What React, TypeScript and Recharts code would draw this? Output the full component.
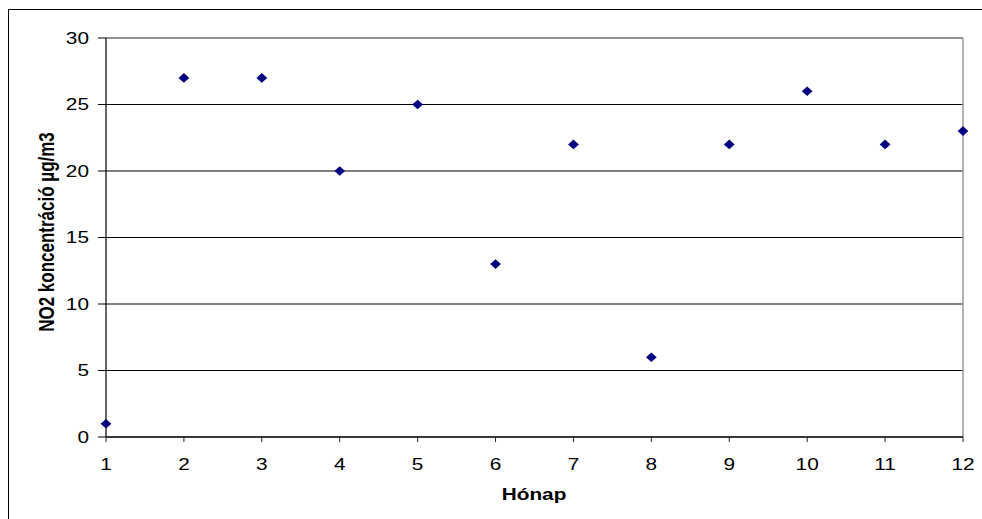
import React from 'react';
import { ScatterChart, Scatter, XAxis, YAxis, CartesianGrid, ReferenceLine } from 'recharts';

const months = [1, 2, 3, 4, 5, 6, 7, 8, 9, 10, 11, 12];
const no2Values = [1, 27, 27, 20, 25, 13, 22, 6, 22, 26, 22, 23];
const yTicks = [0, 5, 10, 15, 20, 25, 30];
const xTicks = [1, 2, 3, 4, 5, 6, 7, 8, 9, 10, 11, 12];
const xTitle = 'Hónap';
const yTitle = 'NO2 koncentráció µg/m3';

const data = months.map((m, i) => ({ x: m, y: no2Values[i] }));

const SX = 1.3;
const FONT = "'Liberation Sans', Arial, sans-serif";

const Diamond = (props: any) => {
  const { cx, cy } = props;
  if (cx == null || cy == null) return null;
  const w = 5.4;
  const h = 4.8;
  return (
    <polygon
      points={`${cx},${cy - h} ${cx + w},${cy} ${cx},${cy + h} ${cx - w},${cy}`}
      fill="#000080"
      stroke="none"
    />
  );
};

const YTick = (props: any) => {
  const { x, y, payload } = props;
  return (
    <g transform={`translate(${x},${y})`}>
      <text transform={`scale(${SX},1)`} textAnchor="end" dy="0.36em" fontSize={16} fontFamily={FONT} fill="#000">
        {payload.value}
      </text>
    </g>
  );
};

const XTick = (props: any) => {
  const { x, y, payload } = props;
  return (
    <g transform={`translate(${x},${y})`}>
      <text transform={`scale(${SX},1)`} textAnchor="middle" dy="0.72em" fontSize={16} fontFamily={FONT} fill="#000">
        {payload.value}
      </text>
    </g>
  );
};

export default function App() {
  return (
    <div
      style={{
        position: 'absolute',
        left: 8,
        top: 9,
        width: 973,
        height: 509,
        borderTop: '1px solid #000',
        borderLeft: '1px solid #000',
        background: '#fff',
      }}
    >
      <ScatterChart width={973} height={509} margin={{ top: 28, right: 19, left: 0, bottom: 42 }}>
        <CartesianGrid vertical={false} stroke="#000" strokeWidth={1} />
        <XAxis
          type="number"
          dataKey="x"
          domain={[1, 12]}
          ticks={xTicks}
          interval={0}
          height={40}
          tickSize={5}
          tickMargin={16}
          tick={<XTick />}
          stroke="#222"
          tickLine={{ stroke: '#222' }}
          axisLine={{ stroke: '#222', strokeWidth: 1.5 }}
          label={{
            content: () => (
              <g transform={`translate(525,490)`}>
                <text transform={`scale(${SX},1)`} textAnchor="middle" fontSize={16} fontWeight="bold" fontFamily={FONT} fill="#000">
                  {xTitle}
                </text>
              </g>
            ),
          }}
        />
        <YAxis
          type="number"
          dataKey="y"
          domain={[0, 30]}
          ticks={yTicks}
          interval={0}
          width={97}
          tickSize={8}
          tickMargin={9}
          tick={<YTick />}
          stroke="#000"
          tickLine={{ stroke: '#000' }}
          axisLine={{ stroke: '#000', strokeWidth: 1.2 }}
          label={{
            content: () => (
              <g transform={`translate(37,222) scale(1.25,1) rotate(-90)`}>
                <text textAnchor="middle" dy="0.36em" fontSize={17} fontWeight="bold" fontFamily={FONT} fill="#000">
                  {yTitle}
                </text>
              </g>
            ),
          }}
        />
        <ReferenceLine y={30} stroke="#999" strokeWidth={1.5} />
        <ReferenceLine x={12} stroke="#999" strokeWidth={1.5} />
        <Scatter data={data} shape={<Diamond />} isAnimationActive={false} />
      </ScatterChart>
    </div>
  );
}
